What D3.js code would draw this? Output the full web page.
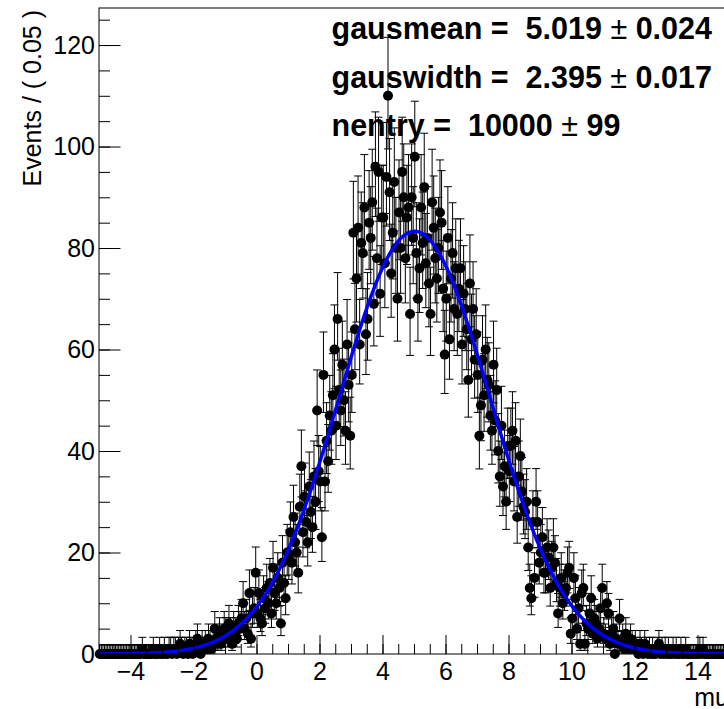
<!DOCTYPE html>
<html><head><meta charset="utf-8">
<script src="https://cdn.jsdelivr.net/npm/d3@7"></script>
<style>body{margin:0;background:#fff} svg{display:block}</style>
</head><body><svg id="c" width="724" height="709"></svg>
<script>
// ---- data ----
const xMin = -5, xMax = 15, binWidth = 0.05;
const counts = [
  0,0,0,0,0,0,0,0,0,0, 0,0,0,0,0,0,0,0,0,0,
  0,0,0,0,0,0,0,1,0,0, 0,0,0,0,1,0,0,0,1,0,
  0,1,0,0,1,1,0,1,1,0, 1,2,1,0,1,1,0,2,1,0,
  1,2,3,1,0,2,1,2,1,3, 2,1,2,5,3,2,4,2,3,5,
  4,3,6,4,2,5,4,3,6,5, 7,10,5,7,4,12,3,8,9,16,
  8,12,7,6,11,9,13,10,14,8, 17,12,10,15,13,6,18,14,11,20,
  19,24,18,27,22,20,16,29,37,24, 31,26,22,33,28,25,35,30,48,36,
  34,23,55,34,42,38,47,44,51,60, 45,66,52,48,57,50,44,61,53,43,
  55,83,64,74,84,61,81,79,88,63, 66,85,82,89,69,96,78,95,71,86,
  86,77,94,110,91,75,83,93,80,70, 87,80,95,90,78,86,88,67,90,82,
  98,79,70,76,88,81,92,77,82,73, 67,89,84,78,74,80,87,85,72,59,
  70,82,62,74,79,68,76,67,72,76, 61,71,68,64,54,73,62,68,58,63,
  55,43,49,58,51,60,54,53,47,44, 57,46,52,40,35,45,33,37,30,41,
  36,41,44,34,42,27,35,39,32,29, 28,30,21,13,11,26,15,30,26,18,
  20,23,16,16,21,19,13,17,21,18, 14,8,13,15,10,12,13,16,17,4,
  7,15,11,5,9,2,12,13,2,6, 5,8,11,4,7,6,3,5,9,13,
  4,3,10,8,2,4,5,0,3,2, 7,2,3,1,4,2,1,3,2,1,
  2,1,0,2,1,0,2,1,0,1, 0,1,0,0,1,2,0,1,0,1,
  0,1,0,0,1,0,1,0,0,1, 0,0,1,0,0,0,0,0,0,0,
  0,1,0,1,0,0,0,0,0,0, 0,0,0,0,0,0,0,0,0,0
];
const xTicks = [-4, -2, 0, 2, 4, 6, 8, 10, 12, 14];
const yTicks = [0, 20, 40, 60, 80, 100, 120];
const gausmean = 5.019, gauswidth = 2.395, nentry = 10000;
const statNames = ["gausmean", "gauswidth", "nentry"];
const statValues = ["5.019", "2.395", "10000"];
const statErrors = ["0.024", "0.017", "99"];
const yTitle = "Events / ( 0.05 )";
const xTitle = "mu";
const yMax = 127.3;

// ---- layout ----
const svg = d3.select("#c");
const F = {left: 99, right: 729, top: 8, bottom: 654};
const font = "'Liberation Sans', Arial, Helvetica, sans-serif";
const x = d3.scaleLinear().domain([xMin, xMax]).range([F.left, F.right]);
const y = d3.scaleLinear().domain([0, yMax]).range([F.bottom, F.top]);

svg.append("defs").append("clipPath").attr("id", "clip")
  .append("rect").attr("x", F.left).attr("y", F.top)
  .attr("width", F.right - F.left).attr("height", F.bottom - F.top);

// Poisson (Garwood) 1-sigma interval, Wilson-Hilferty approximation
function upper(n) { const k = n + 1; return k * Math.pow(1 - 1 / (9 * k) + 1 / (3 * Math.sqrt(k)), 3); }
function lower(n) { if (n === 0) return 0; return n * Math.pow(1 - 1 / (9 * n) - 1 / (3 * Math.sqrt(n)), 3); }

const bins = counts.map((c, i) => ({xc: xMin + (i + 0.5) * binWidth, n: c}));

// error bars
const eb = svg.append("g").attr("clip-path", "url(#clip)")
  .attr("stroke", "#000").attr("stroke-width", 1).attr("fill", "none");
bins.forEach(b => {
  const cx = x(b.xc), y1 = y(upper(b.n)), y0 = y(lower(b.n));
  eb.append("line").attr("x1", cx).attr("x2", cx).attr("y1", y0).attr("y2", y1);
  eb.append("line").attr("x1", cx - 4).attr("x2", cx + 4).attr("y1", y1).attr("y2", y1);
  eb.append("line").attr("x1", cx - 4).attr("x2", cx + 4).attr("y1", y0).attr("y2", y0);
});
// markers
svg.append("g").selectAll("circle").data(bins).join("circle")
  .attr("cx", d => x(d.xc)).attr("cy", d => y(d.n)).attr("r", 5).attr("fill", "#000");

// fitted curve
const norm = nentry * binWidth / (Math.sqrt(2 * Math.PI) * gauswidth);
const cpts = d3.range(0, 1001).map(k => {
  const xv = xMin + (xMax - xMin) * k / 1000;
  return [xv, norm * Math.exp(-0.5 * Math.pow((xv - gausmean) / gauswidth, 2))];
});
svg.append("path").attr("clip-path", "url(#clip)")
  .attr("d", d3.line().x(d => x(d[0])).y(d => y(d[1]))(cpts))
  .attr("fill", "none").attr("stroke", "#0000ff").attr("stroke-width", 3.5);

// frame
svg.append("rect").attr("x", F.left).attr("y", F.top)
  .attr("width", F.right - F.left).attr("height", F.bottom - F.top)
  .attr("fill", "none").attr("stroke", "#000").attr("stroke-width", 1);

// axes
const gx = svg.append("g").attr("transform", `translate(0,${F.bottom})`);
gx.call(d3.axisBottom(x).tickValues(d3.range(-5, 15.01, 0.5)).tickFormat("").tickSize(-10).tickSizeOuter(0));
gx.call(g => g.select(".domain").remove());
const gx2 = svg.append("g").attr("transform", `translate(0,${F.bottom})`);
gx2.call(d3.axisBottom(x).tickValues(xTicks).tickSize(-19).tickSizeOuter(0).tickPadding(8));
gx2.select(".domain").remove();
gx2.selectAll("text").attr("font-size", 25).attr("font-family", font).attr("fill", "#000");

const gy = svg.append("g").attr("transform", `translate(${F.left},0)`);
gy.call(d3.axisLeft(y).tickValues(d3.range(0, 127, 5)).tickFormat("").tickSize(-11).tickSizeOuter(0));
gy.select(".domain").remove();
const gy2 = svg.append("g").attr("transform", `translate(${F.left},0)`);
gy2.call(d3.axisLeft(y).tickValues(yTicks).tickSize(-21.5).tickSizeOuter(0).tickPadding(4));
gy2.select(".domain").remove();
gy2.selectAll("text").attr("font-size", 25).attr("font-family", font).attr("fill", "#000");
svg.selectAll(".tick line").attr("stroke", "#000");

// titles
svg.append("text").attr("transform", "translate(41,10) rotate(-90)")
  .attr("text-anchor", "end").attr("font-family", font).attr("font-size", 25).text(yTitle);
svg.append("text").attr("x", F.right).attr("y", 706).attr("text-anchor", "end")
  .attr("font-family", font).attr("font-size", 25).text(xTitle);

// stats
const baselines = [39, 88, 136];
statNames.forEach((nm, i) => {
  const t = svg.append("text").attr("x", 331.5).attr("y", baselines[i])
    .attr("font-family", font).attr("font-size", 30.5).attr("font-weight", "bold").attr("xml:space", "preserve");
  t.append("tspan").text(nm + " =  " + statValues[i] + " ");
  t.append("tspan").attr("font-weight", "normal").text("±");
  t.append("tspan").text(" " + statErrors[i]);
});
</script></body></html>
